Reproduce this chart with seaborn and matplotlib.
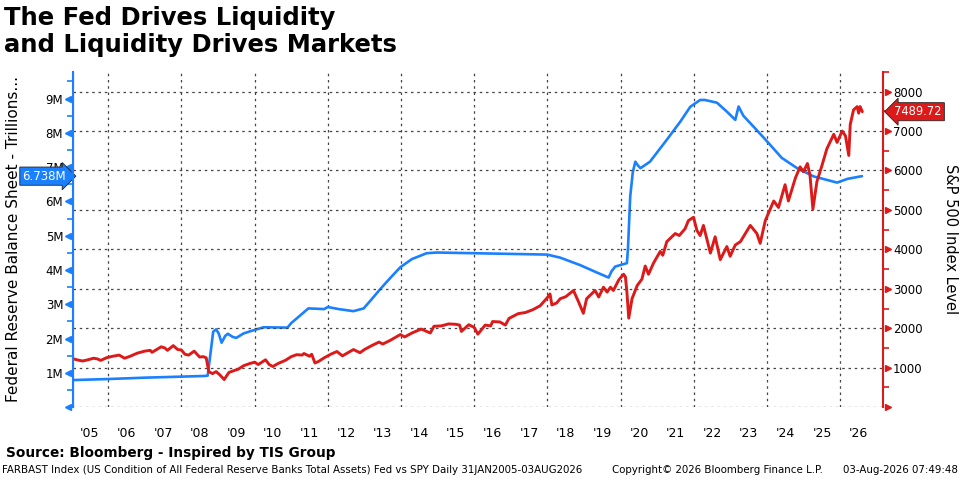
import numpy as np
import pandas as pd
import matplotlib
matplotlib.use("Agg")
import matplotlib.pyplot as plt
import seaborn as sns

# ------------------------------------------------------------------
# Datos: (anio decimal, valor)
# ------------------------------------------------------------------
# Balance de la Fed, en millones de millones (eje izquierdo, "M")
fed_series = [
    (2005.05, 0.79), (2006.0, 0.82), (2007.0, 0.86), (2008.0, 0.89), (2008.65, 0.91),
    (2008.72, 0.92), (2008.8, 1.6), (2008.87, 2.2), (2008.95, 2.27), (2009.02, 2.15),
    (2009.1, 1.88), (2009.2, 2.08), (2009.27, 2.14), (2009.4, 2.05), (2009.5, 2.02),
    (2009.7, 2.15), (2009.9, 2.22), (2010.25, 2.33), (2010.9, 2.32), (2011.0, 2.45),
    (2011.47, 2.88), (2011.7, 2.87), (2011.9, 2.86), (2012.0, 2.92), (2012.3, 2.86),
    (2012.7, 2.80), (2012.98, 2.88), (2013.2, 3.15), (2013.43, 3.44), (2013.7, 3.76),
    (2013.98, 4.08), (2014.3, 4.32), (2014.7, 4.49), (2014.98, 4.51), (2016.0, 4.49),
    (2017.0, 4.47), (2017.99, 4.45), (2018.35, 4.36), (2018.9, 4.14), (2019.3, 3.95),
    (2019.67, 3.78), (2019.75, 3.96), (2019.85, 4.10), (2020.17, 4.20), (2020.2, 4.65),
    (2020.26, 6.14), (2020.33, 6.85), (2020.4, 7.16), (2020.47, 7.05), (2020.54, 6.97),
    (2020.8, 7.16), (2021.26, 7.80), (2021.63, 8.33), (2021.9, 8.76), (2022.17, 8.96),
    (2022.3, 8.96), (2022.63, 8.88), (2022.9, 8.62), (2023.13, 8.38), (2023.22, 8.77),
    (2023.35, 8.50), (2023.63, 8.18), (2024.0, 7.75), (2024.4, 7.27), (2024.82, 6.97),
    (2025.27, 6.73), (2025.91, 6.55), (2026.2, 6.66), (2026.59, 6.738),
]

# S&P 500 (eje derecho)
spx_series = [
    (2005.05, 1225), (2005.15, 1200), (2005.3, 1170), (2005.45, 1200), (2005.6, 1240),
    (2005.7, 1225), (2005.8, 1185), (2005.95, 1250), (2006.1, 1285), (2006.3, 1320),
    (2006.45, 1240), (2006.6, 1290), (2006.8, 1370), (2007.0, 1420), (2007.15, 1440),
    (2007.2, 1390), (2007.45, 1530), (2007.55, 1500), (2007.62, 1440), (2007.78, 1560),
    (2007.9, 1460), (2008.0, 1450), (2008.1, 1340), (2008.2, 1320), (2008.35, 1420),
    (2008.5, 1270), (2008.6, 1280), (2008.68, 1250), (2008.75, 900), (2008.85, 850),
    (2008.95, 900), (2009.05, 820), (2009.17, 700), (2009.3, 880), (2009.45, 930),
    (2009.55, 960), (2009.7, 1050), (2009.85, 1100), (2010.0, 1140), (2010.1, 1080),
    (2010.3, 1200), (2010.4, 1080), (2010.5, 1030), (2010.65, 1110), (2010.85, 1190),
    (2011.0, 1280), (2011.15, 1330), (2011.3, 1320), (2011.35, 1360), (2011.5, 1290),
    (2011.56, 1340), (2011.65, 1120), (2011.75, 1160), (2011.9, 1250), (2012.1, 1350),
    (2012.25, 1410), (2012.4, 1300), (2012.55, 1380), (2012.7, 1460), (2012.88, 1380),
    (2013.0, 1460), (2013.2, 1560), (2013.4, 1650), (2013.5, 1600), (2013.7, 1690),
    (2013.98, 1840), (2014.1, 1780), (2014.3, 1880), (2014.55, 1980), (2014.8, 1880),
    (2014.9, 2050), (2015.1, 2060), (2015.3, 2110), (2015.5, 2100), (2015.6, 2080),
    (2015.65, 1920), (2015.85, 2090), (2016.0, 2020), (2016.1, 1850), (2016.3, 2080),
    (2016.45, 2060), (2016.5, 2170), (2016.7, 2160), (2016.85, 2080), (2016.95, 2250),
    (2017.2, 2370), (2017.4, 2400), (2017.6, 2470), (2017.8, 2570), (2018.0, 2780),
    (2018.07, 2870), (2018.12, 2590), (2018.25, 2640), (2018.35, 2750), (2018.5, 2800),
    (2018.71, 2958), (2018.85, 2668), (2018.98, 2379), (2019.07, 2750), (2019.3, 2958),
    (2019.4, 2792), (2019.53, 3040), (2019.63, 2916), (2019.72, 3040), (2019.8, 2958),
    (2019.95, 3230), (2020.08, 3369), (2020.13, 3300), (2020.17, 2916), (2020.22, 2255),
    (2020.31, 2750), (2020.45, 3082), (2020.58, 3245), (2020.67, 3577), (2020.76, 3369),
    (2020.9, 3658), (2021.08, 3948), (2021.15, 3850), (2021.26, 4196), (2021.49, 4401),
    (2021.6, 4350), (2021.76, 4525), (2021.85, 4730), (2021.99, 4814), (2022.08, 4483),
    (2022.17, 4350), (2022.26, 4607), (2022.45, 3906), (2022.58, 4319), (2022.72, 3740),
    (2022.9, 4072), (2022.99, 3824), (2023.13, 4111), (2023.27, 4196), (2023.54, 4607),
    (2023.72, 4401), (2023.81, 4153), (2023.95, 4730), (2024.18, 5226), (2024.31, 5062),
    (2024.49, 5639), (2024.58, 5226), (2024.77, 5804), (2024.9, 6092), (2024.99, 5968),
    (2025.1, 6176), (2025.17, 5886), (2025.25, 5020), (2025.36, 5720), (2025.5, 6134),
    (2025.63, 6547), (2025.82, 6918), (2025.91, 6711), (2026.05, 7000), (2026.14, 6876),
    (2026.23, 6381), (2026.27, 7166), (2026.36, 7537), (2026.46, 7619), (2026.5, 7453),
    (2026.54, 7619), (2026.6, 7489.72),
]

fed_ticks = [0, 1, 2, 3, 4, 5, 6, 7, 8, 9]
fed_tick_labels = ["", "1M", "2M", "3M", "4M", "5M", "6M", "7M", "8M", "9M"]
spx_ticks = [0, 1000, 2000, 3000, 4000, 5000, 6000, 7000, 8000]
spx_tick_labels = ["", "1000", "2000", "3000", "4000", "5000", "6000", "7000", "8000"]
year_labels = ["'05", "'06", "'07", "'08", "'09", "'10", "'11", "'12", "'13", "'14", "'15",
               "'16", "'17", "'18", "'19", "'20", "'21", "'22", "'23", "'24", "'25", "'26"]
grid_years = [2006, 2008, 2010, 2012, 2014, 2016, 2018, 2020, 2022, 2024, 2026]

BLUE = "#1a80ff"
RED = "#dc1a1a"

df_fed = pd.DataFrame(fed_series, columns=["anio", "activos"])
df_spx = pd.DataFrame(spx_series, columns=["anio", "nivel"])
fed_last = df_fed["activos"].iloc[-1]
spx_last = df_spx["nivel"].iloc[-1]

# ------------------------------------------------------------------
# Figura
# ------------------------------------------------------------------
sns.set_style("white")
plt.rcParams["font.family"] = ["DejaVu Sans"]
plt.rcParams["text.color"] = "black"

fig = plt.figure(figsize=(9.6, 4.79), dpi=100)
ax = fig.add_axes([0.076, 0.150, 0.844, 0.700])
ax2 = ax.twinx()

sns.lineplot(data=df_fed, x="anio", y="activos", ax=ax, color=BLUE, lw=1.9)
sns.lineplot(data=df_spx, x="anio", y="nivel", ax=ax2, color=RED, lw=2.1)

ax.set_xlim(2005.04, 2027.17)
ax.set_ylim(0, 9.78)
ax2.set_ylim(0, 8310)

# eje X: etiquetas a mitad de anio, rejilla cada 2 anios
ax.set_xticks([2005.5 + i for i in range(len(year_labels))])
ax.set_xticklabels(year_labels, fontsize=9, color="black")
ax.set_xticks(grid_years, minor=True)
ax.tick_params(axis="x", which="both", length=0, pad=14)
ax.grid(False)
ax.grid(which="minor", axis="x", ls=(0, (2, 3)), color="#444", lw=0.9)

# eje izquierdo
ax.set_yticks(fed_ticks)
ax.set_yticklabels(fed_tick_labels, fontsize=8.5, color="black")
ax.set_yticks([0.5 + i for i in range(10)], minor=True)
ax.tick_params(axis="y", which="major", length=0, pad=7)
ax.tick_params(axis="y", which="minor", length=4, width=1.2, color=BLUE, left=True)
ax.plot(np.full(len(fed_ticks), -0.006), fed_ticks, marker="<", ms=5, ls="none",
        color=BLUE, transform=ax.get_yaxis_transform(), clip_on=False)

# eje derecho
ax2.set_yticks(spx_ticks)
ax2.set_yticklabels(spx_tick_labels, fontsize=8.5, color="black")
ax2.set_yticks([500 + 1000 * i for i in range(9)], minor=True)
ax2.tick_params(axis="y", which="major", length=0, pad=7)
ax2.tick_params(axis="y", which="minor", length=4, width=1.2, color=RED, right=True)
ax2.plot(np.full(len(spx_ticks), 1.006), spx_ticks, marker=">", ms=5, ls="none",
         color=RED, transform=ax2.get_yaxis_transform(), clip_on=False)
ax2.grid(axis="y", ls=(0, (2, 3)), color="#444", lw=0.9)

for a in (ax, ax2):
    a.spines["top"].set_visible(False)
    a.spines["bottom"].set_visible(False)
    a.set_xlabel("")
ax.spines["right"].set_visible(False)
ax2.spines["left"].set_color(BLUE)
ax2.spines["left"].set_linewidth(1.5)
ax2.spines["right"].set_color(RED)
ax2.spines["right"].set_linewidth(1.5)

ax.set_ylabel("Federal Reserve Balance Sheet - Trillions...", fontsize=11, color="black")
ax.yaxis.set_label_coords(-0.064, 0.5)
ax2.set_ylabel("S&P 500 Index Level", fontsize=10.5, color="black", rotation=270)
ax2.yaxis.set_label_coords(1.092, 0.5)

# etiquetas del ultimo valor
ax.annotate(f"{fed_last:.3f}M", xy=(0, fed_last),
            xycoords=("axes fraction", "data"), xytext=(-5, 0), textcoords="offset points",
            ha="right", va="center", fontsize=8.5, color="white", zorder=10,
            bbox=dict(boxstyle="rarrow,pad=0.22", fc=BLUE, ec="#222", lw=0.6),
            annotation_clip=False)
ax2.annotate(f"{spx_last:.2f}", xy=(1, spx_last),
             xycoords=("axes fraction", "data"), xytext=(8, 0), textcoords="offset points",
             ha="left", va="center", fontsize=8.3, color="white", zorder=10,
             bbox=dict(boxstyle="larrow,pad=0.22", fc=RED, ec="#222", lw=0.6),
             annotation_clip=False)

# textos
fig.text(0.004, 0.988, "The Fed Drives Liquidity\nand Liquidity Drives Markets",
         fontsize=17.5, fontweight="bold", va="top", ha="left", linespacing=1.15,
         color="black")
fig.text(0.006, 0.054, "Source: Bloomberg - Inspired by TIS Group", fontsize=9.8,
         fontweight="bold", va="center", ha="left", color="black")
fig.text(0.002, 0.018, "FARBAST Index (US Condition of All Federal Reserve Banks Total Assets) "
         "Fed vs SPY Daily 31JAN2005-03AUG2026", fontsize=7.4, va="center", ha="left",
         color="black")
fig.text(0.6375, 0.018, "Copyright\u00a9 2026 Bloomberg Finance L.P.", fontsize=7.4,
         va="center", ha="left", color="black")
fig.text(0.998, 0.018, "03-Aug-2026 07:49:48", fontsize=7.4, va="center", ha="right",
         color="black")

fig.savefig("out.png", dpi=100)
